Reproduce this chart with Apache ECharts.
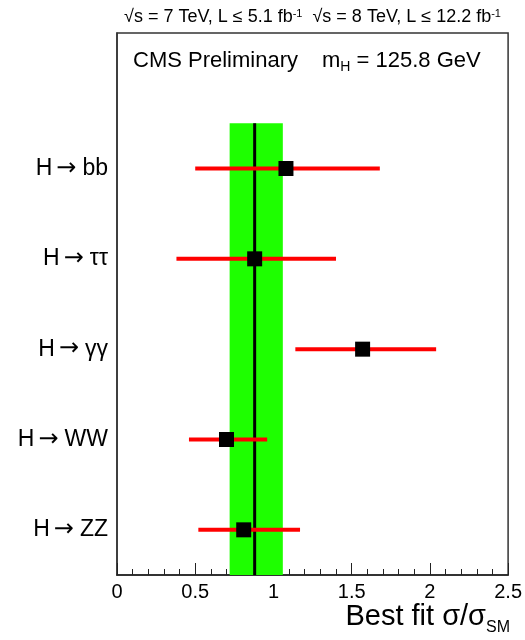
<!DOCTYPE html>
<html>
<head>
<meta charset="utf-8">
<script src="https://cdn.jsdelivr.net/npm/echarts@6/dist/echarts.min.js"></script>
<style>html,body{margin:0;padding:0;background:#fff}#c{width:525px;height:640px}</style>
</head>
<body>
<div id="c"></div>
<script>
// Channels from bottom to top
const channels = ['H → ZZ', 'H → WW', 'H → γγ', 'H → ττ', 'H → bb'];
const bestFit = [0.81, 0.70, 1.57, 0.88, 1.08];
const errLow = [0.52, 0.46, 1.14, 0.38, 0.50];
const errHigh = [1.17, 0.96, 2.04, 1.40, 1.68];
const combinedValue = [0.88];
const combinedBand = [0.72, 1.06];
const xTicks = [0, 0.5, 1, 1.5, 2, 2.5];

const FONT = 'Liberation Sans, Arial, Helvetica, sans-serif';
const yCats = channels.concat(['']);

const errData = channels.map((c, i) => [errLow[i], errHigh[i], i + 1]);
const markData = channels.map((c, i) => [bestFit[i], i + 1]);

function labelFmt(v) {
  if (!v) return '';
  const parts = v.split('→');
  return '{h|' + parts[0].trim() + '}{a|→}{h|' + parts[1].trim() + '}';
}

const chart = echarts.init(document.getElementById('c'), null, {renderer: 'canvas'});
chart.setOption({
  animation: false,
  backgroundColor: '#fff',
  grid: {left: 117, right: 15, top: 33, bottom: 65, show: true, borderColor: '#333', borderWidth: 1.5, backgroundColor: 'transparent'},
  xAxis: {
    type: 'value', min: xTicks[0], max: xTicks[xTicks.length - 1], interval: 0.5,
    splitLine: {show: false},
    axisLine: {lineStyle: {color: '#222', width: 1.5}},
    axisTick: {inside: true, length: 12, lineStyle: {color: '#222', width: 1}},
    minorTick: {show: true, splitNumber: 5, length: 6, lineStyle: {color: '#222', width: 1}},
    axisLabel: {fontFamily: FONT, fontSize: 20, color: '#000', margin: 7,
      formatter: v => String(v)}
  },
  yAxis: [
    {type: 'category', data: yCats, boundaryGap: true,
     axisLine: {show: true, lineStyle: {color: '#333', width: 1.5}},
     axisTick: {show: false},
     axisLabel: {margin: 9, formatter: labelFmt,
       rich: {h: {fontFamily: FONT, fontSize: 23, color: '#000'},
              a: {fontFamily: 'DejaVu Sans', fontSize: 24, color: '#000', padding: [0, 6, 0, 4]}}}},
    {type: 'value', min: 0.5, max: 6.5, show: false, splitLine: {show: false}}
  ],
  graphic: [
    {type: 'text', left: 124, top: 8, style: {
      text: '{t|√s = 7 TeV, L ≤ 5.1 fb}{s|-1}{t|  √s = 8 TeV, L ≤ 12.2 fb}{s|-1}',
      rich: {t: {fontFamily: FONT, fontSize: 18, fill: '#000', verticalAlign: 'bottom'},
             s: {fontFamily: FONT, fontSize: 11, fill: '#000', verticalAlign: 'top'}}}},
    {type: 'text', left: 133, top: 50, style: {text: 'CMS Preliminary', fontFamily: FONT, fontSize: 22, fill: '#000'}},
    {type: 'text', left: 322, top: 50, style: {
      text: '{t|m}{s|H}{t| = 125.8 GeV}',
      rich: {t: {fontFamily: FONT, fontSize: 22, fill: '#000'},
             s: {fontFamily: FONT, fontSize: 14, fill: '#000', padding: [13, 0, 0, 0]}}}},
    {type: 'text', right: 15, top: 602, style: {
      text: '{t|Best fit σ/σ}{s|SM}',
      rich: {t: {fontFamily: FONT, fontSize: 29, fill: '#000'},
             s: {fontFamily: FONT, fontSize: 16, fill: '#000', padding: [22, 0, 0, 0]}}}}
  ],
  series: [
    {type: 'custom', xAxisIndex: 0, yAxisIndex: 1, z: 1,
     data: [[combinedBand[0], combinedBand[1], 0.5, 5.5]],
     renderItem: (params, api) => {
       const p0 = api.coord([api.value(0), api.value(3)]);
       const p1 = api.coord([api.value(1), api.value(2)]);
       return {type: 'rect', shape: {x: p0[0], y: p0[1], width: p1[0] - p0[0], height: p1[1] - p0[1]},
               style: {fill: '#1eff00'}};
     }},
    {type: 'custom', xAxisIndex: 0, yAxisIndex: 1, z: 2,
     data: [[combinedValue[0], 0.5, 5.5]],
     renderItem: (params, api) => {
       const p0 = api.coord([api.value(0), api.value(2)]);
       const p1 = api.coord([api.value(0), api.value(1)]);
       return {type: 'line', shape: {x1: p0[0], y1: p0[1], x2: p1[0], y2: p1[1]},
               style: {stroke: '#000', lineWidth: 3}};
     }},
    {type: 'custom', xAxisIndex: 0, yAxisIndex: 1, z: 3,
     data: errData,
     renderItem: (params, api) => {
       const p0 = api.coord([api.value(0), api.value(2)]);
       const p1 = api.coord([api.value(1), api.value(2)]);
       return {type: 'line', shape: {x1: p0[0], y1: p0[1], x2: p1[0], y2: p1[1]},
               style: {stroke: '#ff0000', lineWidth: 4}};
     }},
    {type: 'scatter', xAxisIndex: 0, yAxisIndex: 1, z: 4,
     symbol: 'rect', symbolSize: 15, itemStyle: {color: '#000', opacity: 1},
     data: markData}
  ]
});
</script>
</body>
</html>
